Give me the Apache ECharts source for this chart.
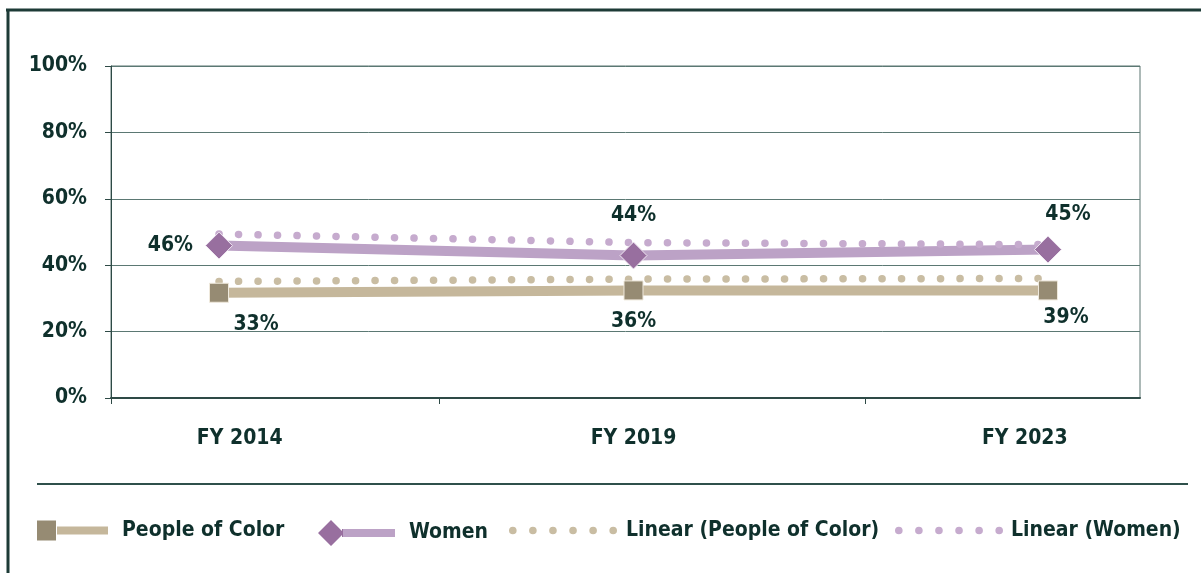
<!DOCTYPE html>
<html>
<head>
<meta charset="utf-8">
<script src="https://cdn.jsdelivr.net/npm/echarts@6/dist/echarts.min.js"></script>
<style>
  html, body { margin: 0; padding: 0; background: #fff; }
  #chart { width: 1201px; height: 573px; }
</style>
</head>
<body>
<div id="chart"></div>
<script>
// data
const categories = ['FY 2014', 'FY 2019', 'FY 2023'];
const pocValues = [31.7, 32.4, 32.4];
const womenValues = [45.9, 42.9, 44.7];
const pocTrend = [35.1, 35.8, 36.0];
const womenTrend = [49.4, 46.8, 46.2];
const pocLabels = ['33%', '36%', '39%'];
const womenLabels = ['46%', '44%', '45%'];
const yTicks = [0, 20, 40, 60, 80, 100];

const FONT = "'DejaVu Sans Condensed', 'Open Sans', sans-serif";
const FS = 21;
const TEXT = '#0f302c';
const pocLine = '#c5b79b', pocMark = '#968b73';
const womenLine = '#bca2c6', womenMark = '#986f9f';
const pocDot = '#c9bda3', womenDot = '#c6abce';

const xy = (vals) => vals.map((v, i) => [i, v]);

function dotsPath(n, gap, r) {
  let p = 'path://';
  for (let i = 0; i < n; i++) {
    const x = i * gap;
    p += 'M' + x + ',' + r + 'a' + r + ',' + r + ' 0 1,0 ' + (2 * r) + ',0a' + r + ',' + r + ' 0 1,0 ' + (-2 * r) + ',0';
  }
  return p;
}

function hardGradient(dark, light, cut) {
  return new echarts.graphic.LinearGradient(0, 0, 1, 0, [
    { offset: 0, color: dark }, { offset: cut, color: dark },
    { offset: cut, color: light }, { offset: 1, color: light }
  ]);
}

function legendAt(left, name, icon, w, color, gap) {
  return {
    left: left, top: 520, padding: 0,
    itemWidth: w, itemHeight: 26,
    selectedMode: false,
    data: [{ name: name, icon: icon, itemStyle: { color: color, borderWidth: 0 } }],
    textStyle: { fontFamily: FONT, fontWeight: 'bold', fontSize: FS, color: TEXT, padding: [0, 0, 0, gap] }
  };
}

const chart = echarts.init(document.getElementById('chart'));

const labelBase = { show: true, fontFamily: FONT, fontWeight: 'bold', fontSize: FS, color: TEXT };

chart.setOption({
  animation: false,
  textStyle: { fontFamily: FONT },
  grid: { left: 111, right: 61, top: 66, bottom: 175, show: true, borderColor: '#5a7571', borderWidth: 1 },
  graphic: [
    { type: 'line', shape: { x1: 6, y1: 10, x2: 1201, y2: 10 }, style: { stroke: '#1d3b37', lineWidth: 3 } },
    { type: 'line', shape: { x1: 8, y1: 9, x2: 8, y2: 573 }, style: { stroke: '#1d3b37', lineWidth: 3 } },
    { type: 'line', shape: { x1: 37, y1: 484, x2: 1188, y2: 484 }, style: { stroke: '#2f504b', lineWidth: 2 } }
  ],
  legend: [
    legendAt(37, 'People of Color', 'path://M0,0h19v20h-19zM20,6h51v8h-51z', 71, hardGradient(pocMark, pocLine, 0.275), 9),
    legendAt(318, 'Women', 'path://M0,13L13,0L26,13L13,26zM24,9h53v8h-53z', 77, hardGradient(womenMark, womenLine, 0.325), 9),
    legendAt(509, 'Linear (People of Color)', dotsPath(6, 20, 3.8), 108, pocDot, 4),
    legendAt(895, 'Linear (Women)', dotsPath(6, 20, 3.8), 108, womenDot, 3)
  ],
  xAxis: {
    type: 'value',
    min: -0.2606,
    max: 2.222,
    axisLine: { show: true, onZero: false, lineStyle: { color: '#2e4a46', width: 2 } },
    axisTick: { show: true, length: 6, customValues: [-0.2606, 0.531, 1.558], lineStyle: { color: '#2e4a46', width: 1 } },
    splitLine: { show: false },
    axisLabel: {
      customValues: [0.05, 1, 1.944],
      margin: 30,
      fontFamily: FONT, fontWeight: 'bold', fontSize: FS, color: TEXT,
      formatter: (v) => categories[Math.round(v)]
    }
  },
  yAxis: {
    type: 'value',
    min: 0, max: 100, interval: 20,
    axisLine: { show: true, onZero: false, lineStyle: { color: '#2e4a46', width: 1 } },
    axisTick: { show: true, length: 6, lineStyle: { color: '#2e4a46' } },
    splitLine: { lineStyle: { color: '#5b7873', width: 1 } },
    axisLabel: {
      margin: 24,
      fontFamily: FONT, fontWeight: 'bold', fontSize: FS, color: TEXT,
      formatter: (v) => yTicks.indexOf(v) >= 0 ? v + '%' : ''
    }
  },
  series: [
    {
      name: 'People of Color', type: 'line', z: 2, symbol: 'none',
      data: xy(pocValues),
      lineStyle: { color: pocLine, width: 10 }, itemStyle: { color: pocMark }
    },
    {
      name: 'Women', type: 'line', z: 2, symbol: 'none',
      data: xy(womenValues),
      lineStyle: { color: womenLine, width: 10 }, itemStyle: { color: womenMark }
    },
    {
      name: 'Linear (People of Color)', type: 'line', z: 3, symbol: 'none',
      data: xy(pocTrend),
      lineStyle: { color: pocDot, width: 7.5, type: [0.1, 19.4], cap: 'round' }, itemStyle: { color: pocDot }
    },
    {
      name: 'Linear (Women)', type: 'line', z: 3, symbol: 'none',
      data: xy(womenTrend),
      lineStyle: { color: womenDot, width: 7.5, type: [0.1, 19.4], cap: 'round' }, itemStyle: { color: womenDot }
    },
    {
      name: 'People of Color', type: 'scatter', z: 4,
      symbol: 'rect', symbolSize: 19,
      itemStyle: { color: pocMark, borderColor: '#efe9dc', borderWidth: 1, opacity: 1 },
      data: pocValues.map((v, i) => ({ value: [i, v], label: { formatter: pocLabels[i] } })),
      label: Object.assign({}, labelBase, { position: 'bottom', distance: 11 }),
      labelLayout: (p) => ({ dx: [37, 0, 18][p.dataIndex], dy: [0, 0, -4][p.dataIndex] })
    },
    {
      name: 'Women', type: 'scatter', z: 4,
      symbol: 'diamond', symbolSize: 27,
      itemStyle: { color: womenMark, borderColor: '#f1e9f3', borderWidth: 1, opacity: 1 },
      data: womenValues.map((v, i) => ({
        value: [i, v],
        label: i === 0 ? { formatter: womenLabels[i], position: 'left', distance: 12 } : { formatter: womenLabels[i], position: 'top', distance: 16 }
      })),
      label: labelBase,
      labelLayout: (p) => ({ dx: [0, 0, 20][p.dataIndex], dy: [0, 0, 5][p.dataIndex] })
    }
  ]
});
</script>
</body>
</html>
